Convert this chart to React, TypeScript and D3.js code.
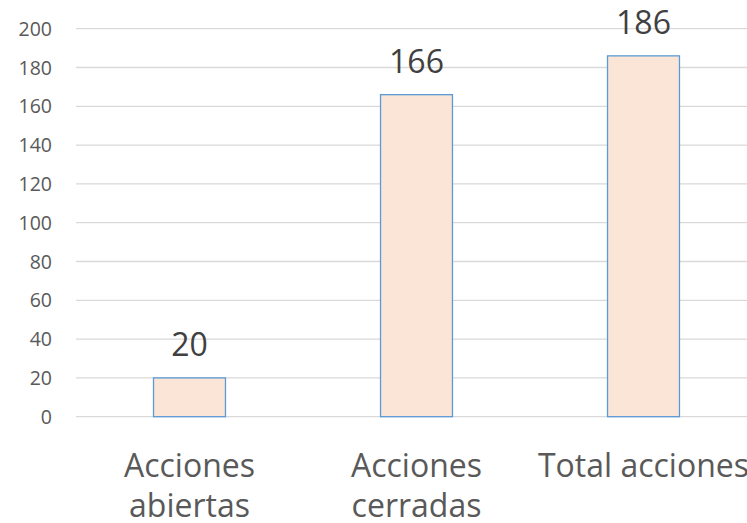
import React from "react";
import * as d3 from "d3";

const categories: string[][] = [["Acciones", "abiertas"], ["Acciones", "cerradas"], ["Total acciones"]];
const values: number[] = [20, 166, 186];
const yTicks: number[] = [0, 20, 40, 60, 80, 100, 120, 140, 160, 180, 200];

const W = 747;
const H = 523;
const FONT = "'Open Sans', sans-serif";

export default function App() {
  const x = d3
    .scaleBand<number>()
    .domain(values.map((_, i) => i))
    .range([76, 757])
    .paddingInner(0.683)
    .paddingOuter(0.3415);
  const y = d3.scaleLinear().domain([0, 200]).range([416.7, 28.7]);

  return (
    <svg width={W} height={H} style={{ position: "absolute", left: 0, top: 0, background: "#fff" }}>
      {yTicks.map((t) => (
        <g key={t}>
          <line x1={76} x2={W} y1={y(t)} y2={y(t)} stroke="#D9D9D9" strokeWidth={1.3} />
          <text x={52} y={y(t) + 7} textAnchor="end" fontFamily={FONT} fontSize={19.5} fill="#595959">
            {t}
          </text>
        </g>
      ))}
      {values.map((v, i) => (
        <g key={i}>
          <rect
            x={x(i)!}
            y={y(v)}
            width={x.bandwidth()}
            height={y(0) - y(v)}
            fill="#FBE5D6"
            stroke="#5B9BD5"
            strokeWidth={1.3}
          />
          <text
            x={x(i)! + x.bandwidth() / 2}
            y={y(v) - 22}
            textAnchor="middle"
            fontFamily={FONT}
            fontSize={32}
            fill="#404040"
          >
            {v}
          </text>
          {categories[i].map((line, j) => (
            <text
              key={j}
              x={x(i)! + x.bandwidth() / 2}
              y={477 + j * 40}
              textAnchor="middle"
              fontFamily={FONT}
              fontSize={32}
              fill="#595959"
            >
              {line}
            </text>
          ))}
        </g>
      ))}
    </svg>
  );
}
